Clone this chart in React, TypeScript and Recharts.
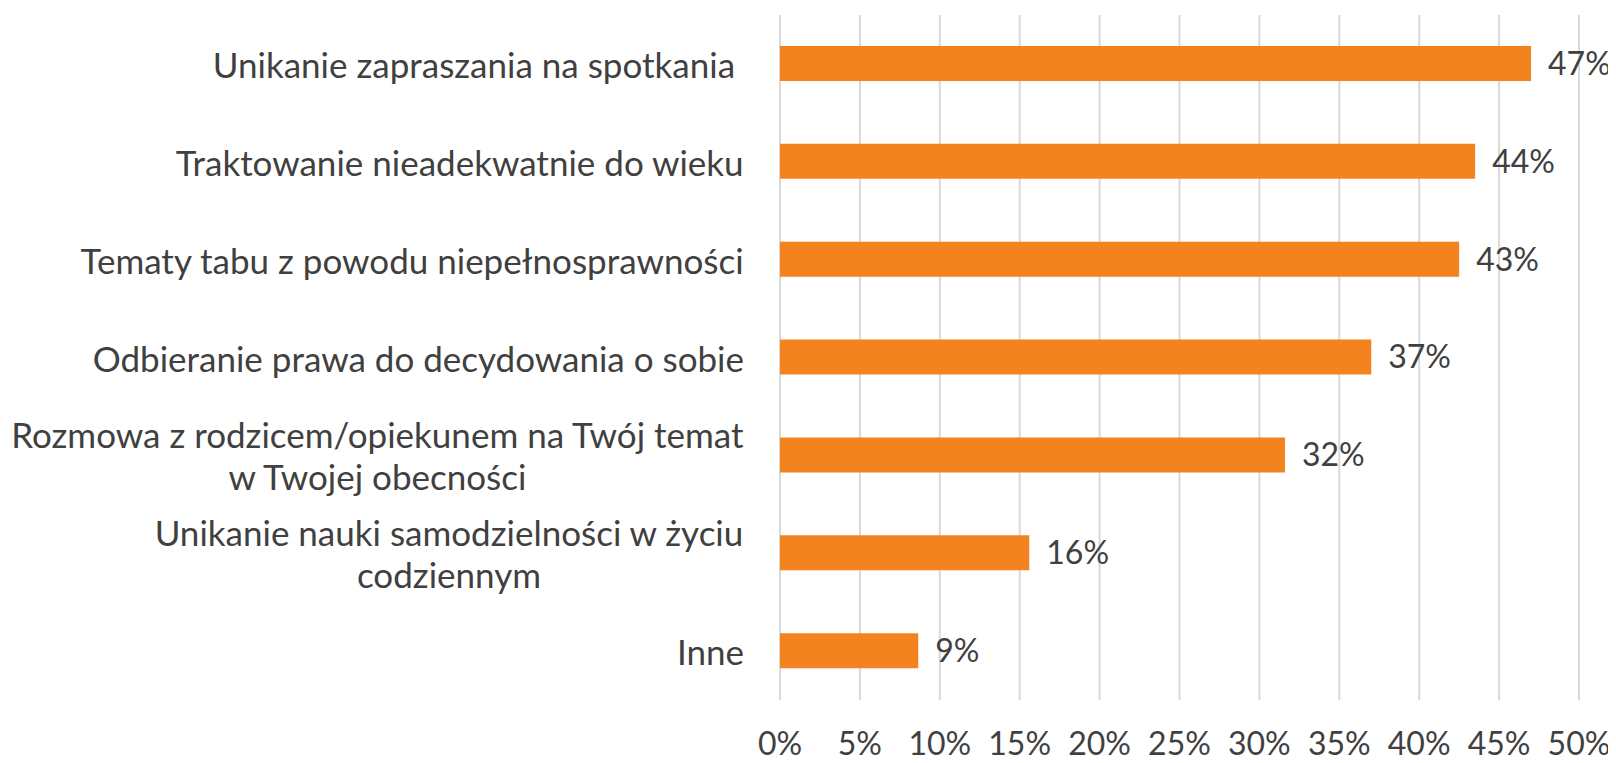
import React from "react";
import {
  BarChart,
  Bar,
  XAxis,
  YAxis,
  CartesianGrid,
  LabelList,
} from "recharts";

const categories = [
  "Unikanie zapraszania na spotkania ",
  "Traktowanie nieadekwatnie do wieku",
  "Tematy tabu z powodu niepełnosprawności",
  "Odbieranie prawa do decydowania o sobie",
  "Rozmowa z rodzicem/opiekunem na Twój temat\nw Twojej obecności",
  "Unikanie nauki samodzielności w życiu\ncodziennym",
  "Inne",
];

const values = [0.47, 0.435, 0.425, 0.37, 0.316, 0.156, 0.0865];

const xTicks = [0, 0.05, 0.1, 0.15, 0.2, 0.25, 0.3, 0.35, 0.4, 0.45, 0.5];

const data = categories.map((name, i) => ({ name, value: values[i] }));

const FONT = "Lato, 'Open Sans', sans-serif";
const FONT_SIZE = 32;
const CAT_SIZE = 35;
const TEXT = "#404040";

const pct = (v: number) => `${Math.round(v * 100)}%`;

let ctx: CanvasRenderingContext2D | null = null;
function measure(s: string) {
  if (!ctx) {
    ctx = document.createElement("canvas").getContext("2d");
  }
  if (!ctx) return s.length * CAT_SIZE * 0.5;
  ctx.font = `${CAT_SIZE}px Lato`;
  return ctx.measureText(s).width;
}

function CategoryTick(props: any) {
  const { x, y, payload } = props;
  const lines: string[] = String(payload.value).split("\n");
  const widths = lines.map(measure);
  const blockW = Math.max(...widths);
  const cx = x - blockW / 2;
  const lh = 42;
  const start = y - ((lines.length - 1) * lh) / 2;
  return (
    <g>
      {lines.map((l, i) => (
        <text
          key={i}
          x={cx}
          y={start + i * lh}
          textAnchor="middle"
          dominantBaseline="central"
          fill={TEXT}
          fontSize={CAT_SIZE}
          fontFamily={FONT}
          style={{ whiteSpace: "pre" }}
        >
          {l}
        </text>
      ))}
    </g>
  );
}

export default function App() {
  return (
    <div style={{ background: "#fff" }}>
      <BarChart
        width={1600}
        height={755}
        data={data}
        layout="vertical"
        margin={{ top: 7, right: 29, bottom: 0, left: 0 }}
      >
        <CartesianGrid horizontal={false} stroke="#d9d9d9" strokeWidth={2} />
        <XAxis
          type="number"
          domain={[0, 0.5]}
          ticks={xTicks}
          tickFormatter={pct}
          axisLine={false}
          tickLine={false}
          height={63}
          tickMargin={26}
          tick={{ fill: TEXT, fontSize: FONT_SIZE, fontFamily: FONT }}
          interval={0}
        />
        <YAxis
          type="category"
          dataKey="name"
          width={772}
          axisLine={false}
          tickLine={false}
          tickMargin={30}
          tick={<CategoryTick />}
          interval={0}
        />
        <Bar dataKey="value" fill="#F3831F" barSize={35} isAnimationActive={false}>
          <LabelList
            dataKey="value"
            position="right"
            offset={17}
            formatter={(v: any) => pct(Number(v))}
            fill={TEXT}
            fontSize={FONT_SIZE}
            fontFamily={FONT}
          />
        </Bar>
      </BarChart>
    </div>
  );
}
